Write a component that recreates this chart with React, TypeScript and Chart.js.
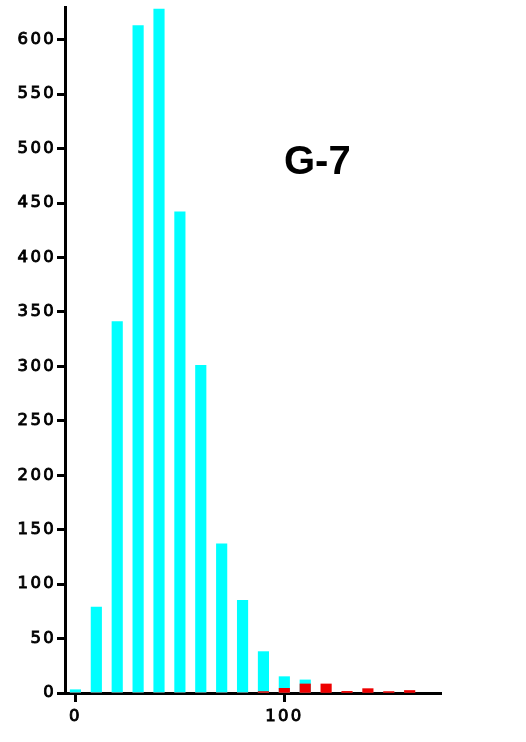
import React, { useEffect, useRef } from "react";
import { Chart, registerables } from "chart.js";

Chart.register(...registerables);

const binCenters = [0, 10, 20, 30, 40, 50, 60, 70, 80, 90, 100, 110, 120, 130, 140, 150, 160];
const cyanCounts = [3, 79, 341, 613, 628, 442, 301, 137, 85, 38, 15, 12, 0, 0, 0, 0, 0];
const redCounts = [0, 0, 0, 0, 0, 0, 0, 0, 0, 1.3, 4.3, 8.3, 8.3, 1.5, 4, 1.3, 2.3];
const yTickValues = [0, 50, 100, 150, 200, 250, 300, 350, 400, 450, 500, 550, 600];
const xTickValues = [0, 100];
const chartTitle = "G-7";

export default function App() {
  const ref = useRef<HTMLCanvasElement | null>(null);

  useEffect(() => {
    if (!ref.current) return;
    const spacingPlugin = {
      id: "spacing",
      beforeDraw(chart: any) {
        (chart.ctx as any).letterSpacing = "2.3px";
      },
      afterDraw(chart: any) {
        const ctx = chart.ctx;
        ctx.save();
        (ctx as any).letterSpacing = "0px";
        ctx.font = "bold 40px 'Liberation Sans', Arial, sans-serif";
        ctx.fillStyle = "#000";
        ctx.textAlign = "left";
        ctx.textBaseline = "alphabetic";
        ctx.fillText(chartTitle, 284, 174);
        ctx.restore();
      },
    };
    const tickFont = { family: "'DejaVu Sans', sans-serif", size: 16.5, weight: "normal" as const };
    const chart = new Chart(ref.current, {
      type: "bar",
      data: {
        datasets: [
          {
            label: "red",
            data: binCenters.map((x, i) => ({ x, y: redCounts[i] })),
            backgroundColor: "#ee0000",
            barThickness: 10.5,
            grouped: false,
          } as any,
          {
            label: "cyan",
            data: binCenters.map((x, i) => ({ x, y: cyanCounts[i] })),
            backgroundColor: "#00ffff",
            barThickness: 10.5,
            grouped: false,
          } as any,
        ],
      },
      options: {
        animation: false,
        responsive: false,
        layout: { padding: { top: 7, right: 85, left: 0, bottom: 0 } },
        plugins: { legend: { display: false }, tooltip: { enabled: false }, title: { display: false } },
        scales: {
          x: {
            type: "linear",
            min: -5,
            max: 175,
            offset: false,
            afterFit: (s: any) => {
              s.height = 49;
              s.paddingLeft = 0;
              s.paddingRight = 0;
            },
            afterBuildTicks: (s: any) => {
              s.ticks = xTickValues.map((v) => ({ value: v }));
            },
            grid: {
              display: true,
              offset: false,
              drawOnChartArea: false,
              drawTicks: true,
              tickLength: 9,
              tickWidth: 3,
              tickColor: "#000",
            },
            border: { display: true, color: "#000", width: 3 },
            ticks: {
              color: "#000",
              font: tickFont,
              padding: 5,
              maxRotation: 0,
              autoSkip: false,
              textStrokeColor: "#000",
              textStrokeWidth: 0.9,
            },
          },
          y: {
            type: "linear",
            min: 0,
            max: 630,
            afterFit: (s: any) => {
              s.width = 65;
              s.paddingTop = 0;
              s.paddingBottom = 0;
            },
            afterBuildTicks: (s: any) => {
              s.ticks = yTickValues.map((v) => ({ value: v }));
            },
            grid: {
              display: true,
              offset: false,
              drawOnChartArea: false,
              drawTicks: true,
              tickLength: 8,
              tickWidth: 3,
              tickColor: "#000",
            },
            border: { display: true, color: "#000", width: 3 },
            ticks: {
              color: "#000",
              font: tickFont,
              padding: 1,
              autoSkip: false,
              textStrokeColor: "#000",
              textStrokeWidth: 0.9,
            },
          },
        },
      },
      plugins: [spacingPlugin],
    });
    return () => chart.destroy();
  }, []);

  return (
    <div style={{ position: "fixed", left: 0, top: 0, width: 526, height: 742, background: "#fff" }}>
      <canvas ref={ref} width={526} height={742} />
    </div>
  );
}
